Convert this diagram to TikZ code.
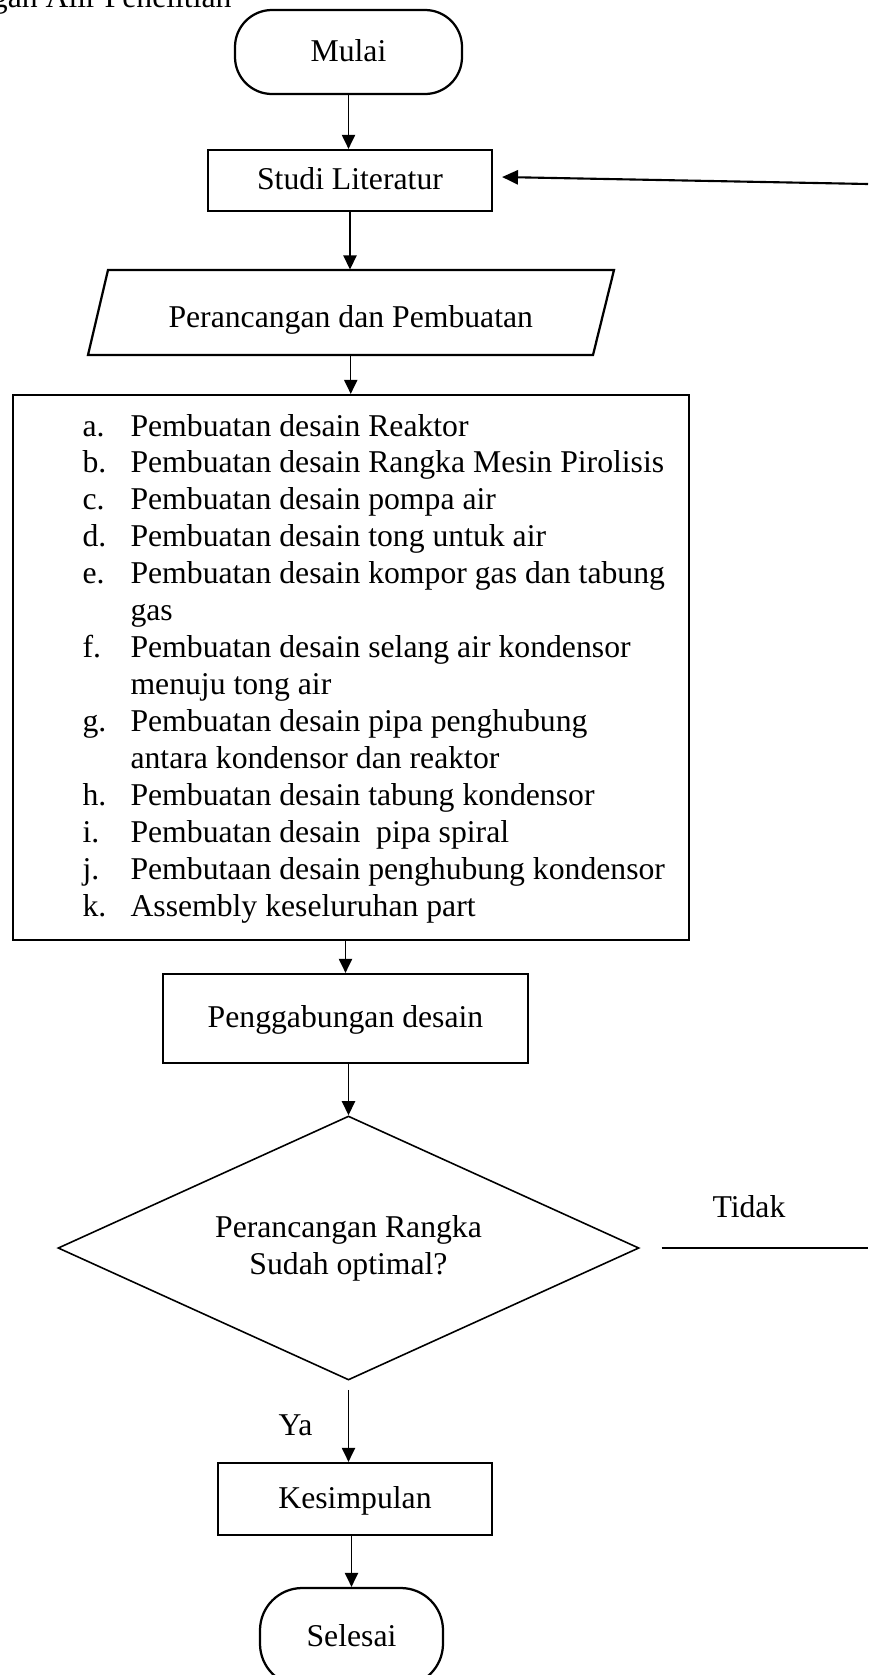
\documentclass[tikz,border=0pt]{standalone}
\usepackage{fontspec}
\setmainfont{Liberation Serif}
\usetikzlibrary{shapes.geometric,arrows.meta}
\begin{document}
\def\px{0.3785pt}
\begin{tikzpicture}[x=0.3785pt,y=-0.3785pt,
  font=\fontsize{12}{14}\selectfont,
  box/.style={draw, line width=0.85pt, inner sep=0pt, align=center, text height=0.683em, text depth=0pt},
  term/.style={box, rounded corners=14pt},
  dia/.style={draw, shape=diamond, aspect=2.2, line width=0.6pt, inner sep=0pt, align=center},
  lbl/.style={inner sep=0pt},
  arr/.style={line width=0.55pt, -{Triangle[length=5.3pt,width=5pt]}},
]
\useasboundingbox (0,0) rectangle (868,1675);

% title (cut at the top)
\node[lbl, anchor=base east] (title) at (232,7) {gan Alir Penelitian};

% nodes
\node[term, minimum width=227*\px, minimum height=84*\px] (mulai) at (348.5,52) {Mulai};
\node[box, minimum width=284*\px, minimum height=61*\px] (studi) at (350,180.5) {Studi Literatur};

\node[lbl, minimum width=500*\px, minimum height=85*\px, text height=11pt, text depth=0pt] (pp) at (350.75,312.5) {Perancangan dan Pembuatan};
\draw[line width=0.85pt] (108,270) -- (614,270) -- (593,355) -- (88,355) -- cycle;

\node[draw, line width=0.85pt, inner sep=0pt, minimum width=676*\px, minimum height=545*\px] (list) at (351,667.5) {};
\node[lbl, anchor=base west] (items) at (82,436) {%
\begin{tabular}[t]{@{}p{18.17pt}@{}l@{}}
a. & Pembuatan desain Reaktor\\
b. & Pembuatan desain Rangka Mesin Pirolisis\\
c. & Pembuatan desain pompa air\\
d. & Pembuatan desain tong untuk air\\
e. & Pembuatan desain kompor gas dan tabung\\
   & gas\\
f. & Pembuatan desain selang air kondensor\\
   & menuju tong air\\
g. & Pembuatan desain pipa penghubung\\
   & antara kondensor dan reaktor\\
h. & Pembuatan desain tabung kondensor\\
i. & Pembuatan desain \ pipa spiral\\
j. & Pembutaan desain penghubung kondensor\\
k. & Assembly keseluruhan part
\end{tabular}};

\node[box, minimum width=365*\px, minimum height=89*\px] (peng) at (345.5,1018.5) {Penggabungan desain};
\node[dia, minimum width=581*\px, minimum height=264*\px] (dec) at (348.5,1248) {Perancangan Rangka\\Sudah optimal?};
\node[box, minimum width=274*\px, minimum height=72*\px] (kes) at (355,1499) {Kesimpulan};
\node[term, minimum width=183*\px, minimum height=98*\px, rounded corners=16pt] (sel) at (351.5,1637) {Selesai};

\node[lbl, anchor=base west] (tidak) at (712,1217) {Tidak};
\node[lbl, anchor=base west] (ya) at (278,1435) {Ya};

% connectors
\draw[arr] (mulai.south) -- (mulai.south |- studi.north);
\draw[arr] (studi.south) -- (studi.south |- pp.north);
\draw[arr] (pp.south) -- (pp.south |- list.north);
\draw[arr] (list.south -| peng.north) -- (peng.north);
\draw[arr] (peng.south -| dec.north) -- (dec.north);
\draw[arr, shorten <=3.4pt] (dec.south) -- (dec.south |- kes.north);
\draw[arr] (kes.south -| sel.north) -- (sel.north);

\coordinate (tR) at (868,1248);
\draw[line width=0.9pt] ([xshift=8.3pt]dec.east) -- (tR);
\coordinate (fbR) at (868,184);
\draw[line width=0.8pt, -{Triangle[length=6pt,width=5.4pt]}] (fbR) -- ([shift={(9,-3.5)}]studi.east);
\end{tikzpicture}
\end{document}
